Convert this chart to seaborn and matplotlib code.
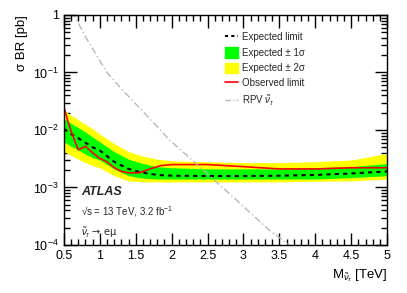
import matplotlib
matplotlib.use('Agg')
import matplotlib.pyplot as plt
import matplotlib.ticker as mticker
from matplotlib.lines import Line2D
from matplotlib.patches import Patch
import numpy as np
import seaborn as sns

# Datos
mass = [0.5, 0.6, 0.7, 0.8, 0.9, 1.0, 1.2, 1.4, 1.6, 1.8, 2.0, 2.5, 3.0, 3.5, 4.0, 4.5, 5.0]
expected = [0.0105, 0.0085, 0.0072, 0.006, 0.005, 0.0044, 0.0028, 0.0021, 0.0018, 0.00165,
            0.0016, 0.00158, 0.00158, 0.0016, 0.00165, 0.00175, 0.0019]
up1 = [0.016, 0.013, 0.011, 0.0092, 0.0075, 0.0062, 0.0042, 0.0031, 0.0026, 0.0023,
       0.0022, 0.0021, 0.0021, 0.0021, 0.0022, 0.0023, 0.0026]
dn1 = [0.0062, 0.0052, 0.0045, 0.0038, 0.0033, 0.003, 0.0021, 0.0016, 0.00145, 0.0014,
       0.0014, 0.0014, 0.0014, 0.0014, 0.0014, 0.00148, 0.0016]
up2 = [0.022, 0.018, 0.015, 0.0125, 0.0105, 0.0085, 0.0058, 0.0042, 0.0035, 0.0031,
       0.0029, 0.0028, 0.0027, 0.0027, 0.0028, 0.003, 0.0039]
dn2 = [0.0042, 0.0036, 0.0031, 0.0027, 0.0024, 0.0022, 0.0016, 0.0013, 0.00125, 0.00125,
       0.00125, 0.00125, 0.00125, 0.00125, 0.00128, 0.0013, 0.0014]

obs_mass = [0.5, 0.55, 0.6, 0.7, 0.8, 0.9, 1.0, 1.1, 1.2, 1.3, 1.4, 1.55, 1.7, 1.85, 2.0,
            2.5, 3.0, 3.5, 4.0, 4.5, 5.0]
observed = [0.025, 0.015, 0.0095, 0.0045, 0.0052, 0.004, 0.0032, 0.0028, 0.0022, 0.0019,
            0.0018, 0.0018, 0.0021, 0.0024, 0.0025, 0.0025, 0.0023, 0.0021, 0.0021, 0.0022, 0.0022]

rpv_mass = [0.5, 0.64, 0.8, 1.0, 1.1, 1.3, 1.45, 1.7, 1.97, 2.34, 2.8, 3.36, 3.64, 3.8]
rpv = [2.1, 1.0, 0.42, 0.16, 0.1, 0.052, 0.033, 0.0155, 0.0067, 0.0026, 7.9e-4, 1.8e-4, 1e-4, 8e-5]

x_ticks = [0.5, 1, 1.5, 2, 2.5, 3, 3.5, 4, 4.5, 5]
y_ticks = [1e-4, 1e-3, 1e-2, 1e-1, 1]

sns.set_style('ticks')
plt.rcParams.update({
    'font.family': ['Liberation Sans', 'DejaVu Sans'],
    'mathtext.fontset': 'custom',
    'mathtext.rm': 'Liberation Sans',
    'mathtext.it': 'Liberation Sans:italic',
    'mathtext.bf': 'Liberation Sans:bold',
    'axes.edgecolor': 'black', 'axes.linewidth': 1.0,
})

fig = plt.figure(figsize=(4.07, 2.93), dpi=100)
ax = fig.add_axes([0.157, 0.164, 0.794, 0.785])

yellow = '#ffff00'
green = '#00ff00'
rpv_color = '#b8b8b8'
ax.fill_between(mass, dn2, up2, color=yellow, lw=0)
ax.fill_between(mass, dn1, up1, color=green, lw=0)
sns.lineplot(x=mass, y=expected, ax=ax, color='black', lw=1.5, linestyle=(0, (2, 2)))
sns.lineplot(x=obs_mass, y=observed, ax=ax, color='red', lw=1.2)
sns.lineplot(x=rpv_mass, y=rpv, ax=ax, color=rpv_color, lw=1.0, linestyle=(0, (5, 2, 1, 2)))

ax.set_yscale('log')
ax.set_xlim(0.5, 5)
ax.set_ylim(1e-4, 1)

ax.set_xticks(x_ticks)
ax.set_yticks(y_ticks)
ax.xaxis.set_major_formatter(mticker.FuncFormatter(lambda v, p: '%g' % v))


def y_fmt(v, p):
    e = int(round(np.log10(v)))
    return '1' if e == 0 else '10$^{%d}$' % e


ax.yaxis.set_major_formatter(mticker.FuncFormatter(y_fmt))
ax.xaxis.set_minor_locator(mticker.AutoMinorLocator(5))

ax.set_ylabel('σ BR [pb]', loc='top', fontsize=9.5, color='black')
ax.set_xlabel(r'M$_{\tilde{\nu}_{\tau}}$ [TeV]', loc='right', fontsize=9.5, color='black')

handles = [
    Line2D([], [], color='black', lw=1.5, linestyle=(0, (1.5, 1.5))),
    Patch(color=green),
    Patch(color=yellow),
    Line2D([], [], color='red', lw=1.2),
    Line2D([], [], color=rpv_color, lw=1.0, linestyle=(0, (4, 1.5, 1, 1.5))),
]
labels = ['Expected limit', 'Expected ± 1σ', 'Expected ± 2σ', 'Observed limit',
          r'RPV $\tilde{\nu}_{\tau}$']
fig.legend(handles, labels, loc='upper left', bbox_to_anchor=(225 / 407, 1 - 32 / 293),
           frameon=False, fontsize=7, borderpad=0, borderaxespad=0, labelspacing=0.5,
           handlelength=1.35, handletextpad=0.4, handleheight=1.25)

fig.text(81 / 407, 1 - 192 / 293, 'ATLAS', fontsize=9, fontweight='bold', style='italic',
         va='center')
fig.text(81 / 407, 1 - 212 / 293, '√s = 13 TeV, 3.2 fb$^{-1}$', fontsize=7, va='center')
fig.text(81 / 407, 1 - 233 / 293, r'$\tilde{\nu}_{\tau}$ → eμ', fontsize=7, va='center',
         family=['DejaVu Sans'])

ax.tick_params(which='both', direction='in', top=True, right=True, labelsize=9,
               color='black', labelcolor='black')
ax.tick_params(which='major', length=9, width=1.0)
ax.tick_params(which='minor', length=4.5, width=1.0)

fig.savefig('out.png', dpi=100)
